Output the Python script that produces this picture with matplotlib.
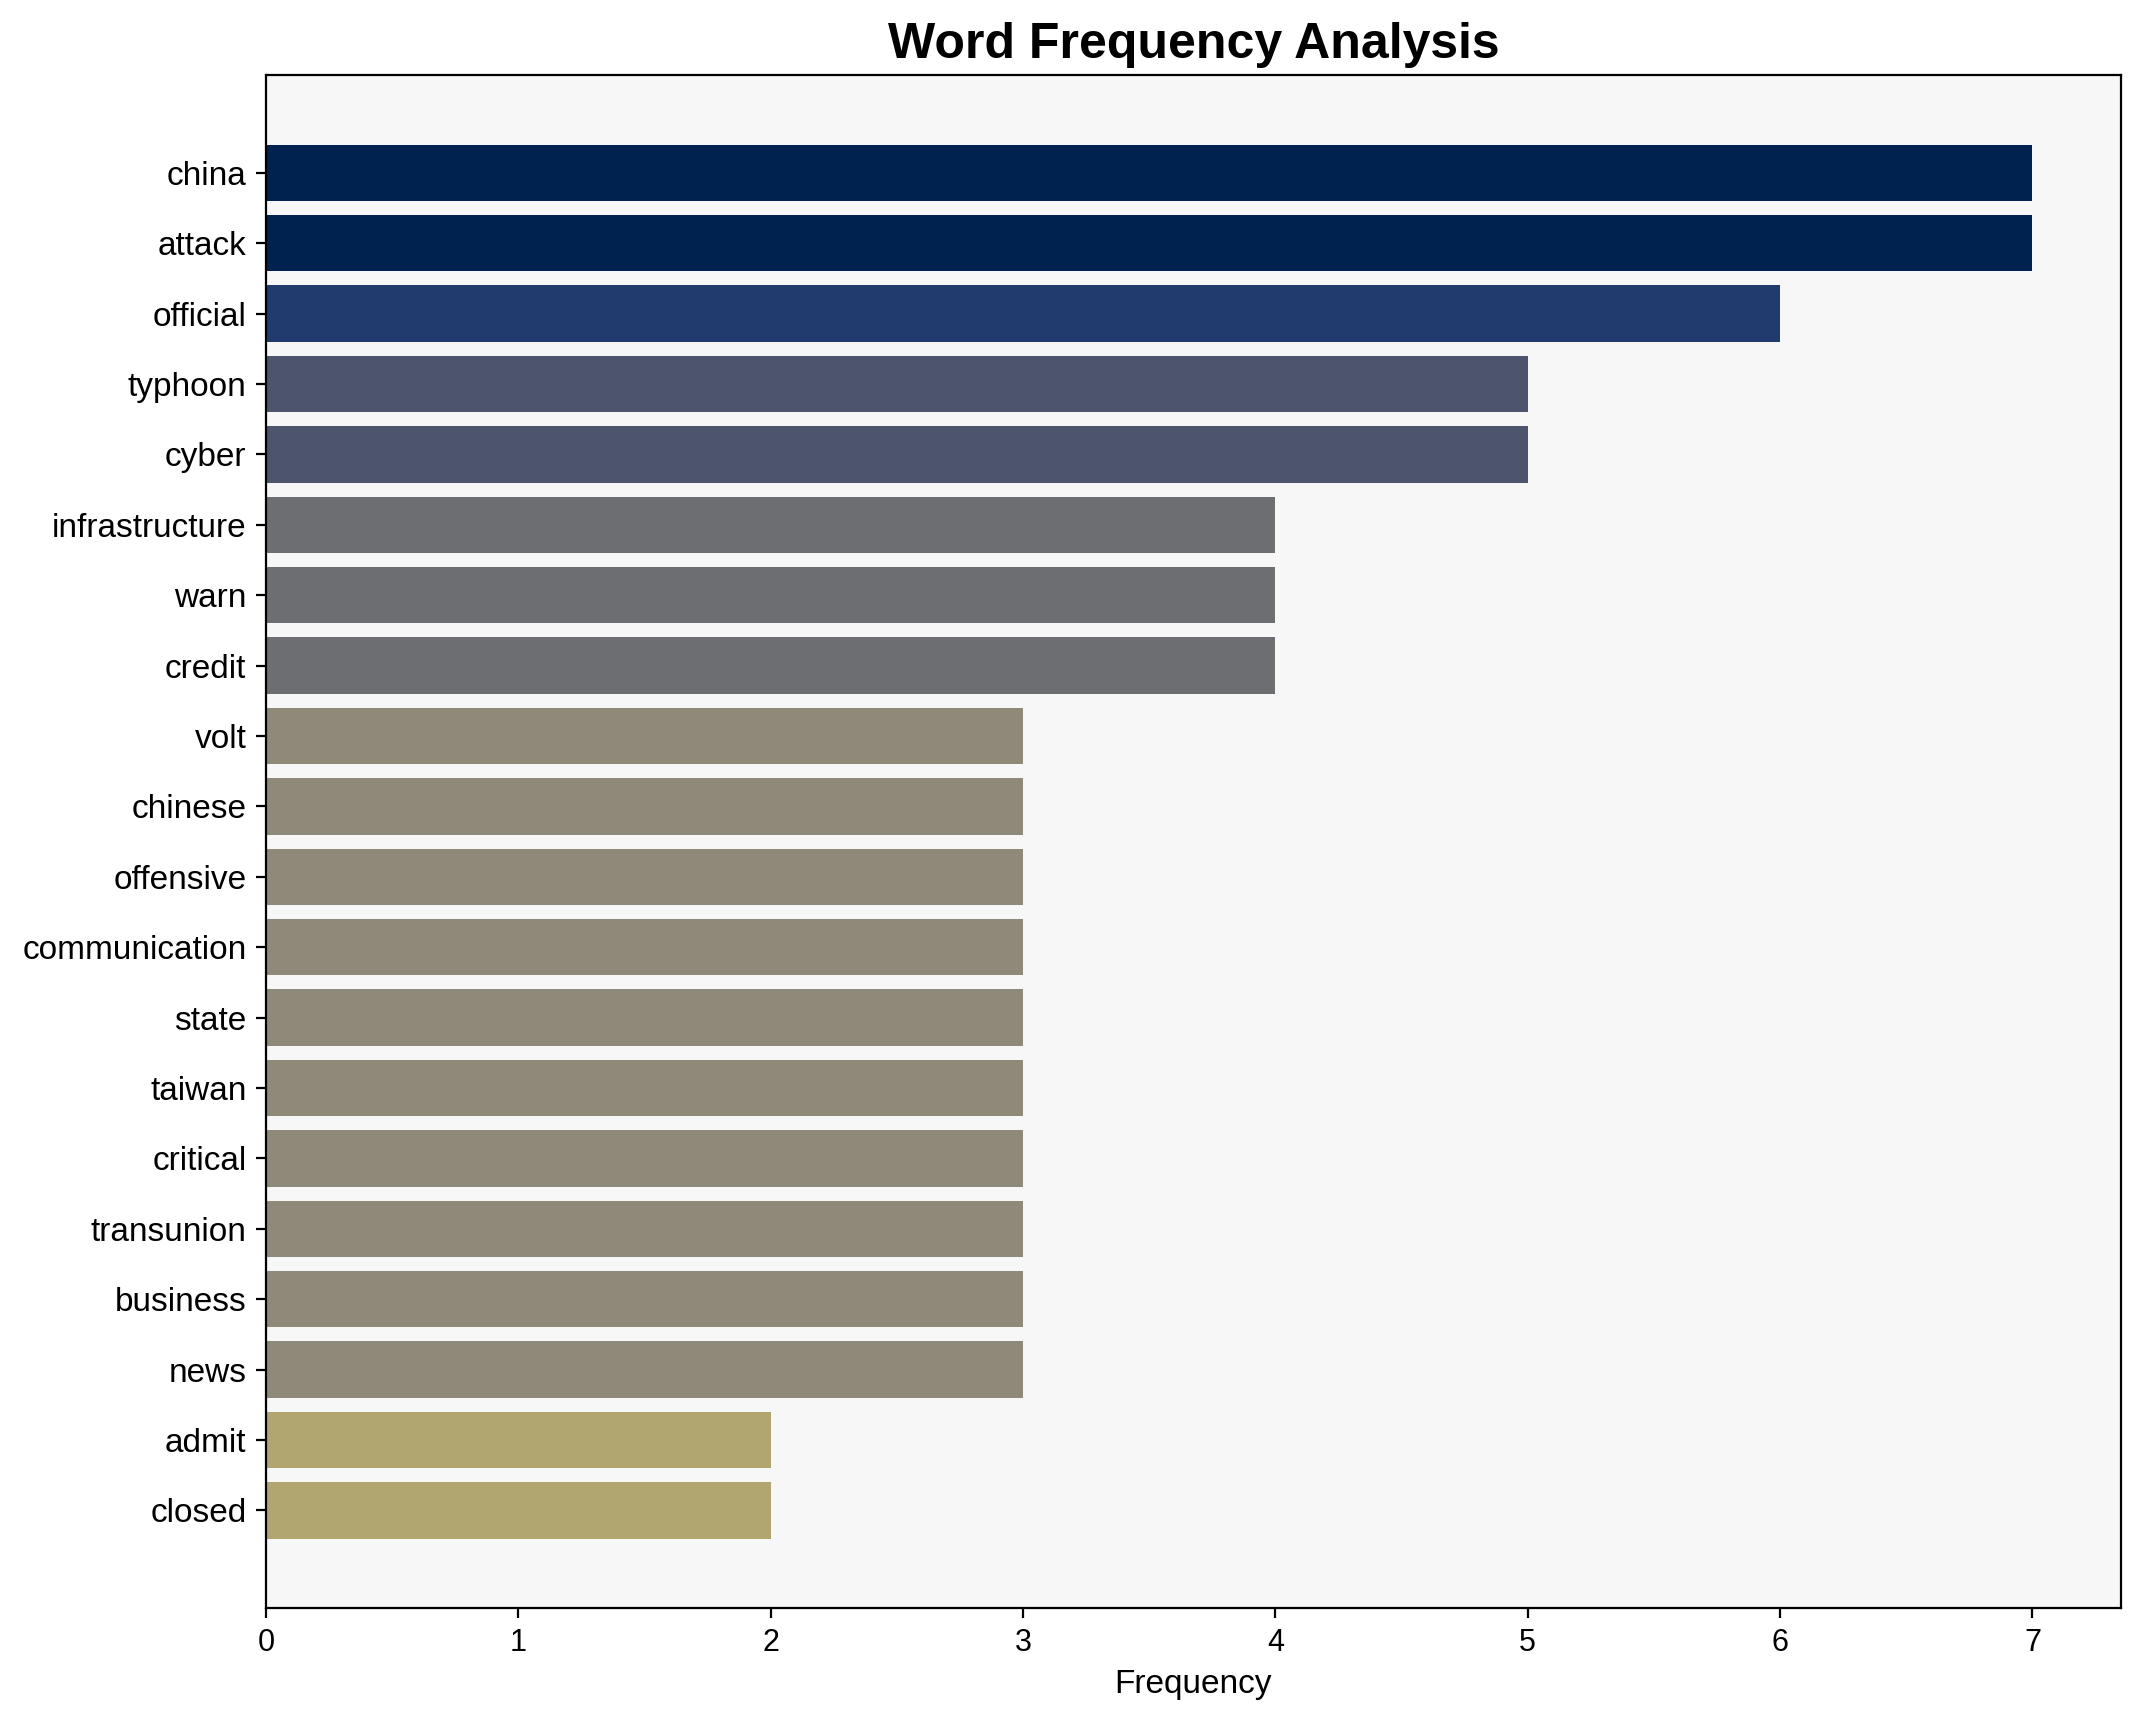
import matplotlib
matplotlib.use("Agg")
import matplotlib.pyplot as plt
import numpy as np

plt.rcParams['font.family'] = ['Liberation Sans', 'DejaVu Sans']

# word counts, most frequent first
words = ["china", "attack", "official", "typhoon", "cyber", "infrastructure",
         "warn", "credit", "volt", "chinese", "offensive", "communication",
         "state", "taiwan", "critical", "transunion", "business", "news",
         "admit", "closed"]
counts = [7, 7, 6, 5, 5, 4, 4, 4, 3, 3, 3, 3, 3, 3, 3, 3, 3, 3, 2, 2]

counts_arr = np.array(counts, dtype=float)
colors = plt.cm.cividis(1 - counts_arr / counts_arr.max())

fig, ax = plt.subplots(figsize=(2143 / 200, 1722 / 200), dpi=200)
ax.set_facecolor("#f7f7f7")

y = np.arange(len(words))
ax.barh(y, counts_arr, color=colors)
ax.set_yticks(y)
ax.set_yticklabels(words, fontsize=12)
ax.invert_yaxis()
ax.tick_params(axis="x", labelsize=11)
ax.set_xlabel("Frequency", fontsize=12)
ax.set_title("Word Frequency Analysis", fontsize=18, fontweight="bold")

fig.tight_layout(pad=0.8)
fig.savefig("out.png", dpi=200)
